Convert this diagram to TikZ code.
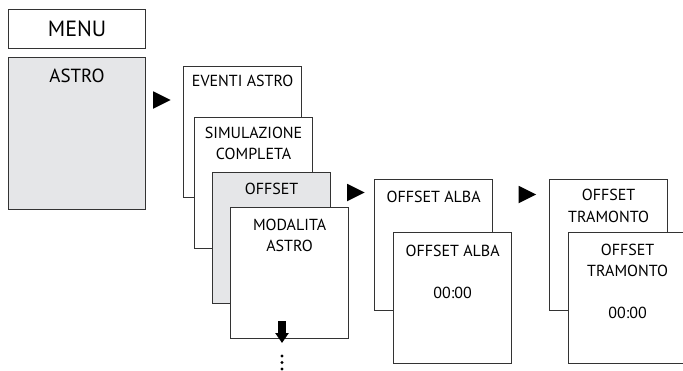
\documentclass[tikz,border=0pt]{standalone}
\usepackage{fontspec}
\setmainfont{PT Sans}
\usetikzlibrary{arrows.meta,shapes.geometric,positioning}

\definecolor{menugray}{HTML}{E5E6E8}
\newcommand{\stackbox}[2][5.5pt]{\parbox[c][65.5pt][t]{59pt}{\centering\vspace*{#1}#2}}

\begin{document}
\begin{tikzpicture}[x=0.5pt,y=-0.5pt,
	font=\fontsize{8}{10.5}\selectfont,
	menubox/.style={draw=black!80,rectangle,fill=white,line width=0.6pt,inner sep=0pt,anchor=north west},
	greybox/.style={menubox,fill=menugray},
	nextarrow/.style={isosceles triangle,isosceles triangle stretches,fill=black,inner sep=0pt,minimum width=8.75pt,minimum height=8.75pt}]

\clip (0,0) rectangle (683,370);

% main menu
\node[menubox] (menu) at (8,9) {\parbox[c][19.5pt][c]{68.5pt}{\centering\fontsize{11}{13}\selectfont MENU}};
\node[greybox] (astro) at (8,57) {\parbox[c][76pt][t]{68.5pt}{\centering\fontsize{9.5}{11}\selectfont\vspace*{5.5pt}ASTRO}};

\node[nextarrow] (go1) at (158.5,100) {};

% astro submenu
\node[menubox] (eventi) at (183,66) {\stackbox[4.5pt]{EVENTI ASTRO}};
\node[menubox] (simul) at (194,117) {\stackbox[5pt]{SIMULAZIONE\\COMPLETA}};
\node[greybox] (offset) at (212,172) {\stackbox[5.5pt]{OFFSET}};
\node[menubox] (modo) at (230,207) {\stackbox[5.5pt]{MODALITA\\ASTRO}};

\coordinate (downstart) at (282,321);
\coordinate (downend) at (282,343);
\draw[line width=4pt,-{Triangle[length=5pt,width=6.5pt]}] (downstart) -- (downend);
% more entries below
\foreach \y in {356,362.5,369}
	\fill (282,\y) circle (0.8pt);

\node[nextarrow] (go2) at (352.5,192.5) {};

% offset alba
\node[menubox] (alba) at (374,179) {\stackbox[6pt]{OFFSET ALBA}};
\node[menubox] (albaset) at (393,232) {\stackbox[6pt]{OFFSET ALBA\\[10.5pt]00:00}};

\node[nextarrow] (go3) at (524,194.5) {};

% offset tramonto
\node[menubox] (tramonto) at (549,179) {\stackbox[5pt]{OFFSET\\TRAMONTO}};
\node[menubox] (tramontoset) at (568,232) {\stackbox[5.5pt]{OFFSET\\TRAMONTO\\[10.5pt]00:00}};

\end{tikzpicture}
\end{document}
